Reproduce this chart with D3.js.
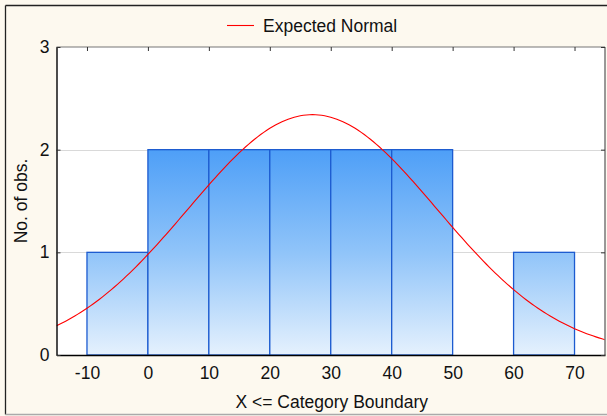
<!DOCTYPE html>
<html>
<head>
<meta charset="utf-8">
<script src="https://cdn.jsdelivr.net/npm/d3@7"></script>
<style>
  html, body { margin: 0; padding: 0; background: #fdf9ef; }
  svg { display: block; }
  text { font-family: "Liberation Sans", Arial, sans-serif; fill: #111; }
</style>
</head>
<body>
<svg id="chart" width="607" height="416"></svg>
<script>
// Histogram bins (upper category boundaries) and counts
const binStarts = [-10, 0, 10, 20, 30, 40, 50, 60];
const binEnds   = [0, 10, 20, 30, 40, 50, 60, 70];
const counts    = [1, 2, 2, 2, 2, 2, 0, 1];
const xTicks = [-10, 0, 10, 20, 30, 40, 50, 60, 70];
const yTicks = [0, 1, 2, 3];

// Expected normal parameters (sample mean / sd, bin width)
const normalMean = 27;
const normalSd = 20.45;
const binWidth = 10;

const W = 607, H = 416;
const FS = 17.5;
const plot = { left: 56.5, top: 47, right: 605, bottom: 355 };

const svg = d3.select("#chart");

// outer frame
svg.append("rect").attr("x", 0).attr("y", 0).attr("width", W).attr("height", H).attr("fill", "#fdf9ef");
svg.append("line").attr("x1", 5.5).attr("x2", W).attr("y1", 5.5).attr("y2", 5.5).attr("stroke", "#222").attr("stroke-width", 1.3);
svg.append("line").attr("x1", 5.5).attr("x2", 5.5).attr("y1", 5.5).attr("y2", 414.5).attr("stroke", "#222").attr("stroke-width", 1.3);
svg.append("line").attr("x1", 5.5).attr("x2", W).attr("y1", 414.5).attr("y2", 414.5).attr("stroke", "#aaa").attr("stroke-width", 1.3);

const x = d3.scaleLinear().domain([-15, 75]).range([plot.left, plot.right]);
const y = d3.scaleLinear().domain([0, 3]).range([plot.bottom, plot.top]);

// plot background
svg.append("rect")
  .attr("x", plot.left).attr("y", plot.top)
  .attr("width", plot.right - plot.left).attr("height", plot.bottom - plot.top)
  .attr("fill", "#fff");

const defs = svg.append("defs");
const grad = defs.append("linearGradient")
  .attr("id", "barFill").attr("gradientUnits", "userSpaceOnUse")
  .attr("x1", 0).attr("x2", 0).attr("y1", y(2)).attr("y2", y(0));
grad.append("stop").attr("offset", "0%").attr("stop-color", "#4e9ff7");
grad.append("stop").attr("offset", "50%").attr("stop-color", "#90c4f9");
grad.append("stop").attr("offset", "100%").attr("stop-color", "#e5f1fd");

defs.append("clipPath").attr("id", "plotClip").append("rect")
  .attr("x", plot.left).attr("y", plot.top)
  .attr("width", plot.right - plot.left).attr("height", plot.bottom - plot.top);

// horizontal grid lines
svg.append("g").selectAll("line").data(yTicks.filter(v => v > 0 && v < 3)).join("line")
  .attr("x1", plot.left).attr("x2", plot.right)
  .attr("y1", d => Math.round(y(d)) + 0.5).attr("y2", d => Math.round(y(d)) + 0.5)
  .attr("stroke", "#d9d9d9").attr("stroke-width", 1);

// bars
const bins = counts.map((c, i) => ({ x0: binStarts[i], x1: binEnds[i], n: c })).filter(d => d.n > 0);
svg.append("g").selectAll("rect").data(bins).join("rect")
  .attr("x", d => x(d.x0)).attr("y", d => y(d.n))
  .attr("width", d => x(d.x1) - x(d.x0)).attr("height", d => y(0) - y(d.n))
  .attr("fill", "url(#barFill)")
  .attr("stroke", "#1c5bd0").attr("stroke-width", 1.3);

// expected normal curve
const total = d3.sum(counts);
const pdf = v => total * binWidth * Math.exp(-((v - normalMean) ** 2) / (2 * normalSd ** 2)) / (normalSd * Math.sqrt(2 * Math.PI));
const xs = d3.range(-15, 75.01, 0.5);
svg.append("path")
  .attr("clip-path", "url(#plotClip)")
  .attr("d", d3.line().x(v => x(v)).y(v => y(pdf(v)))(xs))
  .attr("fill", "none").attr("stroke", "#ff0000").attr("stroke-width", 1.1);

// plot frame
svg.append("line").attr("x1", plot.left).attr("x2", plot.right).attr("y1", plot.top).attr("y2", plot.top).attr("stroke", "#777").attr("stroke-width", 1.2);
svg.append("line").attr("x1", plot.right).attr("x2", plot.right).attr("y1", plot.top).attr("y2", plot.bottom).attr("stroke", "#777").attr("stroke-width", 1.5);

// axes
const fmt = d => String(d);
const bottomAxis = svg.append("g").attr("transform", `translate(0,${plot.bottom})`)
  .call(d3.axisBottom(x).tickValues(xTicks).tickSize(0).tickPadding(12).tickSizeOuter(0).tickFormat(fmt));
bottomAxis.select(".domain").attr("stroke", "#000").attr("stroke-width", 1.4);
bottomAxis.selectAll("text").attr("font-size", FS).attr("font-family", "Liberation Sans, Arial, sans-serif").attr("fill", "#111");

const topAxis = svg.append("g").attr("transform", `translate(0,${plot.top})`)
  .call(d3.axisBottom(x).tickValues(xTicks).tickSize(4).tickSizeOuter(0).tickFormat(""));
topAxis.select(".domain").remove();
topAxis.selectAll("line").attr("stroke", "#333");

const leftAxis = svg.append("g").attr("transform", `translate(${plot.left},0)`)
  .call(d3.axisRight(y).tickValues(yTicks).tickSize(4).tickSizeOuter(0).tickFormat(""));
leftAxis.select(".domain").attr("stroke", "#000").attr("stroke-width", 1.4);
leftAxis.selectAll("line").attr("stroke", "#333");

const leftLabels = svg.append("g").attr("transform", `translate(${plot.left},0)`)
  .call(d3.axisLeft(y).tickValues(yTicks).tickSize(0).tickPadding(7).tickFormat(fmt));
leftLabels.select(".domain").remove();
leftLabels.selectAll("text").attr("font-size", FS).attr("font-family", "Liberation Sans, Arial, sans-serif").attr("fill", "#111");

const rightAxis = svg.append("g").attr("transform", `translate(${plot.right},0)`)
  .call(d3.axisLeft(y).tickValues(yTicks).tickSize(4).tickSizeOuter(0).tickFormat(""));
rightAxis.select(".domain").remove();
rightAxis.selectAll("line").attr("stroke", "#333");

// axis titles
svg.append("text")
  .attr("x", (plot.left + plot.right) / 2 + 1).attr("y", 408)
  .attr("text-anchor", "middle").attr("font-size", FS)
  .text("X <= Category Boundary");

svg.append("text")
  .attr("transform", `translate(27,${(plot.top + plot.bottom) / 2}) rotate(-90)`)
  .attr("text-anchor", "middle").attr("font-size", FS)
  .text("No. of obs.");

// legend
const legend = svg.append("g");
legend.append("line").attr("x1", 227).attr("x2", 254).attr("y1", 25.5).attr("y2", 25.5)
  .attr("stroke", "#ff0000").attr("stroke-width", 1.1);
legend.append("text").attr("x", 263).attr("y", 31.5).attr("font-size", FS).text("Expected Normal");
</script>
</body>
</html>
